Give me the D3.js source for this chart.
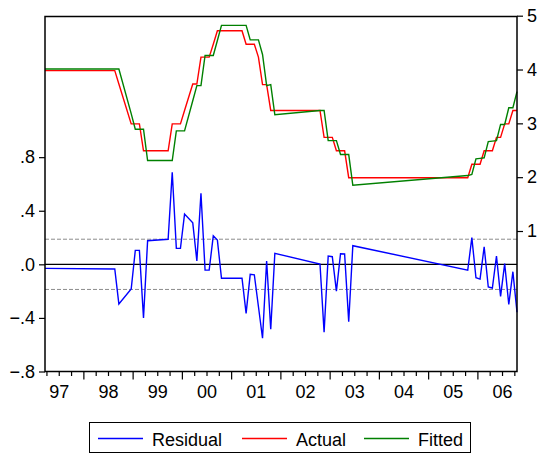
<!DOCTYPE html>
<html>
<head>
<meta charset="utf-8">
<script src="https://cdn.jsdelivr.net/npm/d3@7"></script>
<style>
  body { margin: 0; background: #fff; }
  svg { display: block; font-family: "Liberation Sans", Arial, sans-serif; }
</style>
</head>
<body>
<div id="chart"></div>
<script>
// observation months where one of the lines bends (monthly data)
const months = [
  "1997-03", "1998-08", "1998-09", "1998-12", "1999-01", "1999-02", "1999-03", "1999-04",
  "1999-09", "1999-10", "1999-11", "1999-12", "2000-01", "2000-03", "2000-04", "2000-05",
  "2000-06", "2000-07", "2000-08", "2000-09", "2000-10", "2001-03", "2001-04", "2001-05",
  "2001-06", "2001-07", "2001-08", "2001-09", "2001-10", "2001-11", "2002-10", "2002-11",
  "2002-12", "2003-01", "2003-02", "2003-03", "2003-04", "2003-05", "2003-06", "2005-10",
  "2005-11", "2005-12", "2006-01", "2006-02", "2006-03", "2006-04", "2006-05", "2006-06",
  "2006-07", "2006-08", "2006-09", "2006-10"
];
const actual = [
  3.98, 3.98, 3.73, 2.99, 2.99, 2.99, 2.49, 2.49,
  2.49, 2.99, 2.99, 2.99, 3.24, 3.73, 3.73, 4.23,
  4.23, 4.23, 4.47, 4.72, 4.72, 4.72, 4.47, 4.47,
  4.47, 4.23, 3.72, 3.72, 3.24, 3.24, 3.24, 2.74,
  2.74, 2.74, 2.49, 2.49, 2.49, 1.99, 1.99, 1.99,
  2.24, 2.24, 2.24, 2.49, 2.49, 2.49, 2.74, 2.74,
  2.99, 2.99, 3.24, 3.24
];
const fitted = [
  4.01, 4.01, 4.01, 3.18, 2.89, 2.89, 2.89, 2.31,
  2.31, 2.31, 2.86, 2.86, 2.86, 3.42, 3.70, 3.70,
  4.26, 4.26, 4.26, 4.54, 4.82, 4.82, 4.82, 4.55,
  4.55, 4.55, 4.28, 3.70, 3.72, 3.16, 3.24, 3.24,
  2.68, 2.68, 2.68, 2.42, 2.42, 2.42, 1.85, 2.03,
  2.05, 2.34, 2.35, 2.36, 2.66, 2.67, 2.68, 2.98,
  2.98, 3.29, 3.29, 3.59
];
const residual = [
  -0.030, -0.035, -0.296, -0.184, 0.104, 0.104, -0.400, 0.176,
  0.187, 0.687, 0.119, 0.119, 0.375, 0.310, 0.025, 0.530,
  -0.043, -0.043, 0.213, 0.181, -0.104, -0.104, -0.366, -0.075,
  -0.078, -0.315, -0.552, 0.025, -0.485, 0.082, 0.002, -0.507,
  0.062, 0.057, -0.200, 0.079, 0.077, -0.428, 0.139, -0.043,
  0.199, -0.100, -0.110, 0.131, -0.169, -0.177, 0.062, -0.239,
  0.005, -0.300, -0.055, -0.358
];
const stdErr = 0.1875;
const leftTicks = [-0.8, -0.4, 0, 0.4, 0.8];
const rightTicks = [1, 2, 3, 4, 5];
const yearLabels = ["97", "98", "99", "00", "01", "02", "03", "04", "05", "06"];
const seriesNames = ["Residual", "Actual", "Fitted"];
const seriesColors = ["#0000ff", "#ff0000", "#008000"];

const W = 550, H = 454;
const plot = { left: 45, right: 517, top: 16.5, bottom: 371.5 };
const FONT = 18;

// month string -> decimal year (points sit late in the month)
const toYear = s => +s.slice(0, 4) + (+s.slice(5, 7) - 1 + 0.65) / 12;

const rows = months.map((m, i) => ({
  t: toYear(m), actual: actual[i], fitted: fitted[i], resid: residual[i]
}));

const x = d3.scaleLinear()
  .domain([rows[0].t, rows[rows.length - 1].t])
  .range([plot.left, plot.right]);
const yRes = d3.scaleLinear().domain([-0.8, 1.85]).range([plot.bottom, plot.top]);
const yLev = d3.scaleLinear().domain([-1.61, 4.985]).range([plot.bottom, plot.top]);

const svg = d3.select("#chart").append("svg")
  .attr("width", W).attr("height", H);

// std. error band and zero line
[stdErr, -stdErr].forEach(v => {
  svg.append("line")
    .attr("x1", plot.left).attr("x2", plot.right)
    .attr("y1", yRes(v)).attr("y2", yRes(v))
    .attr("stroke", "#8c8c8c").attr("stroke-width", 1)
    .attr("stroke-dasharray", "4,2");
});
svg.append("line")
  .attr("x1", plot.left).attr("x2", plot.right)
  .attr("y1", yRes(0)).attr("y2", yRes(0))
  .attr("stroke", "#000").attr("stroke-width", 1.2);

const lineRes = d3.line().x(d => x(d.t)).y(d => yRes(d.resid));
const lineAct = d3.line().x(d => x(d.t)).y(d => yLev(d.actual));
const lineFit = d3.line().x(d => x(d.t)).y(d => yLev(d.fitted));

[lineRes, lineAct, lineFit].forEach((gen, i) => {
  svg.append("path")
    .datum(rows)
    .attr("fill", "none")
    .attr("stroke", seriesColors[i])
    .attr("stroke-width", 1.4)
    .attr("stroke-linejoin", "miter")
    .attr("d", gen);
});

// frame
svg.append("rect")
  .attr("x", plot.left).attr("y", plot.top)
  .attr("width", plot.right - plot.left).attr("height", plot.bottom - plot.top)
  .attr("fill", "none").attr("stroke", "#000").attr("stroke-width", 1.5);

const fmtLeft = d => d3.format(".1f")(d).replace("0.", ".");

function styleAxis(g) {
  g.select(".domain").remove();
  g.attr("font-size", FONT).attr("font-family", null);
  g.selectAll("line").attr("stroke", "#000").attr("stroke-width", 1.2);
  g.selectAll("text").attr("fill", "#000");
}

svg.append("g")
  .attr("transform", `translate(${plot.left},0)`)
  .call(d3.axisLeft(yRes).tickValues(leftTicks).tickSize(6).tickPadding(4).tickFormat(fmtLeft))
  .call(styleAxis);

svg.append("g")
  .attr("transform", `translate(${plot.right},0)`)
  .call(d3.axisRight(yLev).tickValues(rightTicks).tickSize(6).tickPadding(4).tickFormat(d3.format("d")))
  .call(styleAxis);

// time axis: year ticks, quarter ticks, labels at mid-year
const firstYear = 1997;
const years = d3.range(firstYear + 1, firstYear + yearLabels.length);
const quarters = d3.range(firstYear, firstYear + yearLabels.length, 0.25)
  .filter(q => q % 1 !== 0 && q >= x.domain()[0] && q <= x.domain()[1]);

svg.append("g")
  .attr("transform", `translate(0,${plot.bottom})`)
  .call(d3.axisBottom(x).tickValues(years).tickSize(8).tickFormat(""))
  .call(styleAxis);
svg.append("g")
  .attr("transform", `translate(0,${plot.bottom})`)
  .call(d3.axisBottom(x).tickValues(quarters).tickSize(4.5).tickFormat(""))
  .call(styleAxis);
svg.append("g")
  .attr("transform", `translate(0,${plot.bottom})`)
  .call(d3.axisBottom(x)
    .tickValues(yearLabels.map((_, i) => firstYear + i + 0.5))
    .tickSize(0).tickPadding(13.7)
    .tickFormat((d, i) => yearLabels[i]))
  .call(styleAxis);

// legend
const legend = svg.append("g");
legend.append("rect")
  .attr("x", 89.5).attr("y", 422.5).attr("width", 381).attr("height", 30)
  .attr("fill", "#fff").attr("stroke", "#000").attr("stroke-width", 1);
const legendX = [98, 242, 364];
seriesNames.forEach((name, i) => {
  legend.append("line")
    .attr("x1", legendX[i]).attr("x2", legendX[i] + 45)
    .attr("y1", 438.5).attr("y2", 438.5)
    .attr("stroke", seriesColors[i]).attr("stroke-width", 1.4);
  legend.append("text")
    .attr("x", legendX[i] + 54).attr("y", 446)
    .attr("font-size", FONT)
    .attr("fill", "#000")
    .text(name);
});
</script>
</body>
</html>
